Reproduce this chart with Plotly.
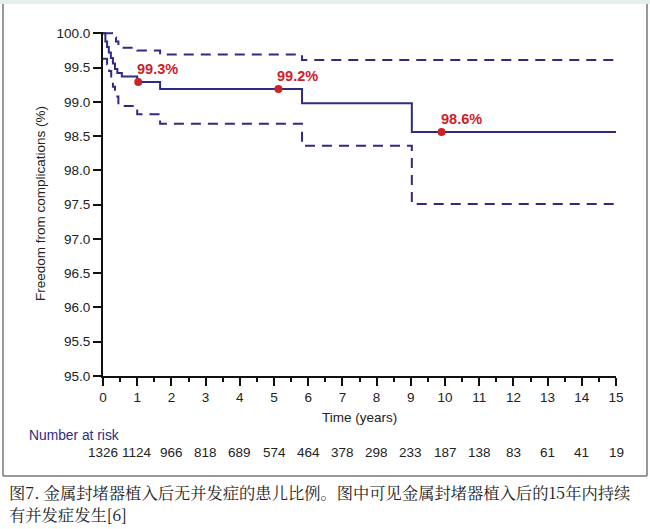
import plotly.graph_objects as go

# Kaplan-Meier estimate and 95% CI (freedom from complications, %)
t_km = [0, 0.07, 0.12, 0.17, 0.23, 0.29, 0.35, 0.42, 0.55, 1.0, 1.67, 5.82, 9.03, 15]
s_km = [100, 99.88, 99.80, 99.72, 99.64, 99.56, 99.48, 99.42, 99.37, 99.29, 99.19, 98.98, 98.56, 98.56]

t_up = [0, 0.32, 0.38, 0.45, 0.55, 1.0, 1.67, 5.82, 15]
s_up = [100, 99.94, 99.88, 99.83, 99.79, 99.75, 99.69, 99.61, 99.61]

t_lo = [0, 0.12, 0.18, 0.24, 0.29, 0.35, 0.45, 1.0, 1.67, 5.82, 9.03, 15]
s_lo = [99.63, 99.55, 99.45, 99.34, 99.22, 99.08, 98.94, 98.82, 98.68, 98.36, 97.51, 97.51]

# highlighted points
pt_t = [1.03, 5.13, 9.9]
pt_s = [99.29, 99.19, 98.56]
pt_labels = ["99.3%", "99.2%", "98.6%"]

years = list(range(0, 16))
at_risk = [1326, 1124, 966, 818, 689, 574, 464, 378, 298, 233, 187, 138, 83, 61, 41, 19]

caption = ["图7. 金属封堵器植入后无并发症的患儿比例。图中可见金属封堵器植入后的15年内持续",
           "有并发症发生[6]"]

navy = "#2e2b80"
red = "#cc2229"
font = "Liberation Sans, Arial, sans-serif"

# plot area in pixels
L, R, T, B = 103, 616, 32, 376
W, H = 650, 529


def px(x):
    return (x - L) / (R - L)


def py(y):
    return (B - y) / (B - T)


fig = go.Figure()

fig.add_trace(go.Scatter(x=t_up, y=s_up, mode="lines", line_shape="hv",
                         line=dict(color=navy, width=2, dash="10px,7px")))
fig.add_trace(go.Scatter(x=t_lo, y=s_lo, mode="lines", line_shape="hv",
                         line=dict(color=navy, width=2, dash="10px,7px")))
fig.add_trace(go.Scatter(x=t_km, y=s_km, mode="lines", line_shape="hv",
                         line=dict(color=navy, width=2)))
fig.add_trace(go.Scatter(x=pt_t, y=pt_s, mode="markers",
                         marker=dict(color=red, size=8), cliponaxis=False))

annotations = []
for t, s, lab in zip(pt_t, pt_s, pt_labels):
    annotations.append(dict(x=t, y=s, text="<b>" + lab + "</b>", showarrow=False,
                            xanchor="left", yanchor="bottom", xshift=-3, yshift=3,
                            font=dict(color=red, size=14.5, family=font)))

annotations.append(dict(x=px(27), y=py(435), xref="paper", yref="paper",
                        text="Number at risk", showarrow=False,
                        xanchor="left", yanchor="middle",
                        font=dict(color=navy, size=13.8, family=font)))
for yr, n in zip(years, at_risk):
    annotations.append(dict(x=yr, y=py(452), xref="x", yref="paper",
                            text=str(n), showarrow=False,
                            xanchor="center", yanchor="middle",
                            font=dict(color="#222222", size=13.5, family=font)))

annotations.append(dict(x=px(359), y=py(417), xref="paper", yref="paper",
                        text="Time (years)", showarrow=False,
                        xanchor="center", yanchor="middle",
                        font=dict(color="#222222", size=13.5, family=font)))
annotations.append(dict(x=px(40), y=py(204), xref="paper", yref="paper",
                        text="Freedom from complications (%)", showarrow=False,
                        textangle=-90, xanchor="center", yanchor="middle",
                        font=dict(color="#222222", size=13.5, family=font)))

for i, line in enumerate(caption):
    annotations.append(dict(x=px(7), y=py(492 + 22 * i), xref="paper", yref="paper",
                            text=line, showarrow=False,
                            xanchor="left", yanchor="middle",
                            font=dict(color="#222222", size=16.3,
                                      family="Noto Serif CJK SC, Noto Sans CJK SC")))

shapes = [
    dict(type="rect", xref="paper", yref="paper", x0=px(0), x1=px(W), y0=py(0), y1=py(4),
         fillcolor="#e4eeee", line=dict(width=0), layer="below"),
    dict(type="line", xref="paper", yref="paper", x0=px(3), x1=px(3), y0=py(4), y1=py(476),
         line=dict(color="#777777", width=1.5)),
    dict(type="line", xref="paper", yref="paper", x0=px(647), x1=px(647), y0=py(4), y1=py(476),
         line=dict(color="#777777", width=1.5)),
    dict(type="line", xref="paper", yref="paper", x0=px(3), x1=px(647), y0=py(476), y1=py(476),
         line=dict(color="#777777", width=1.5)),
]

fig.update_layout(
    width=W, height=H,
    margin=dict(l=L, r=W - R, t=T, b=H - B, pad=0),
    paper_bgcolor="white", plot_bgcolor="white",
    showlegend=False,
    font=dict(family=font, size=13.5, color="#222222"),
    annotations=annotations,
    shapes=shapes,
    xaxis=dict(range=[0, 15], tickmode="linear", tick0=0, dtick=1,
               showline=True, linecolor="#111111", linewidth=2,
               ticks="outside", ticklen=8, tickwidth=2, tickcolor="#111111",
               minor=dict(ticks="outside", ticklen=4, tickwidth=1.5, dtick=0.5,
                          tickcolor="#111111"),
               showgrid=False, zeroline=False, automargin=False),
    yaxis=dict(range=[95, 100.02], tickmode="array",
               tickvals=[95 + 0.5 * i for i in range(11)],
               ticktext=["%.1f" % (95 + 0.5 * i) for i in range(11)],
               showline=True, linecolor="#111111", linewidth=2,
               ticks="outside", ticklen=8, tickwidth=2, tickcolor="#111111",
               showgrid=False, zeroline=False, automargin=False),
)

fig.write_html("out.html", config={"displayModeBar": False},
               post_script="document.body.style.margin='0px';"
                           "document.body.style.overflow='hidden';")
